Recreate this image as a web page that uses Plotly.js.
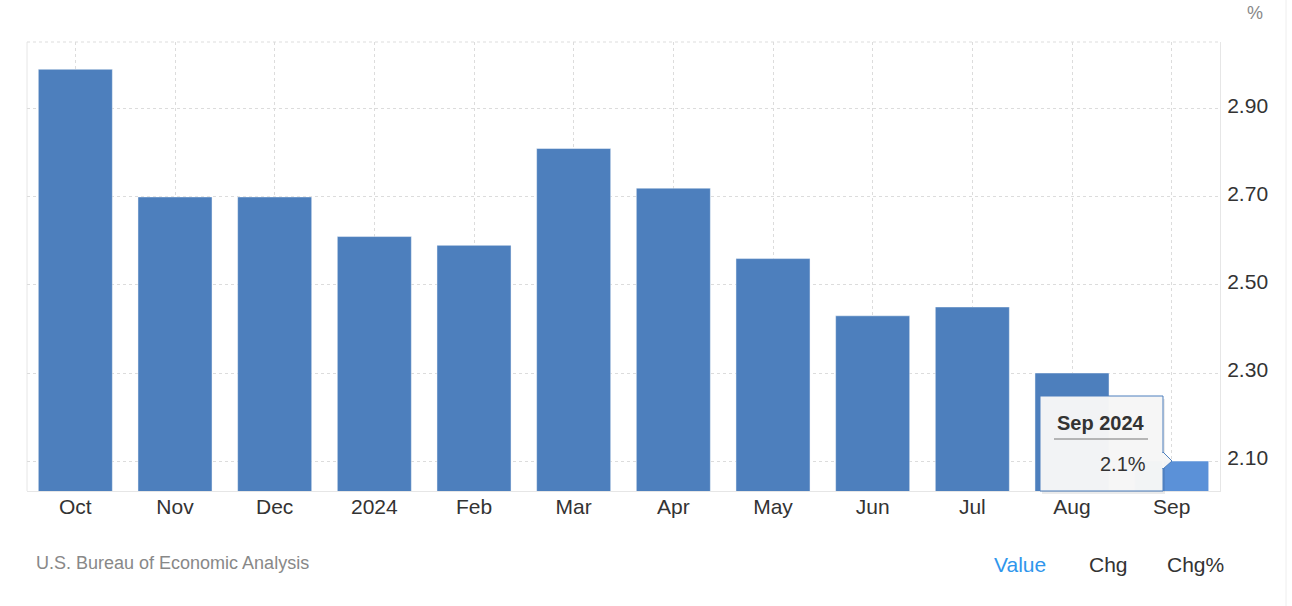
<!DOCTYPE html>
<html>
<head>
<meta charset="utf-8">
<script src="https://cdn.plot.ly/plotly-3.0.1.min.js"></script>
<style>
html,body{margin:0;padding:0;background:#fff;}
#chart{width:1292px;height:606px;}
</style>
</head>
<body>
<div id="chart"></div>
<script>
// Data (PCE price index, YoY %)
const categories = ["Oct", "Nov", "Dec", "2024", "Feb", "Mar", "Apr", "May", "Jun", "Jul", "Aug", "Sep"];
const values = [2.99, 2.70, 2.70, 2.61, 2.59, 2.81, 2.72, 2.56, 2.43, 2.45, 2.30, 2.10];
const yTickValues = [2.10, 2.30, 2.50, 2.70, 2.90];
const yTickLabels = ["2.10", "2.30", "2.50", "2.70", "2.90"];
const tooltipTitle = "Sep 2024";
const tooltipValue = "2.1%";
const sourceText = "U.S. Bureau of Economic Analysis";
const buttons = ["Value", "Chg", "Chg%"];
const unitLabel = "%";

const FONT = "Liberation Sans, Arial, Helvetica, sans-serif";
const BAR = "#4d7fbd";
const BAR_HI = "#5b91d8";

const W = 1292, H = 606;
const M = {l: 27, r: 72, t: 42, b: 115};
const PW = W - M.l - M.r, PH = H - M.t - M.b;
const px = x => (x - M.l) / PW;
const py = y => (H - M.b - y) / PH;

const colors = values.map((v, i) => i === values.length - 1 ? BAR_HI : BAR);

const trace = {
  type: "bar",
  x: categories,
  y: values,
  marker: {color: colors, line: {color: "rgba(255,255,255,0.45)", width: 1}},
  hoverinfo: "skip"
};

// tooltip geometry (pixels)
const tb = {x0: 1040, x1: 1163, y0: 396, y1: 491};

const shapes = [
  {type: "line", xref: "paper", yref: "paper", x0: 0, x1: 0, y0: 0, y1: 1,
   line: {color: "#e6e6e6", width: 1}, layer: "below"},
  {type: "line", xref: "paper", yref: "paper", x0: 0, x1: 1, y0: 1, y1: 1,
   line: {color: "#dddddd", width: 1, dash: "dot"}, layer: "below"},
  {type: "line", xref: "paper", yref: "paper", x0: px(1286), x1: px(1286), y0: py(606), y1: py(0),
   line: {color: "#eeeeee", width: 1}},
  {type: "rect", xref: "paper", yref: "paper", x0: px(tb.x0 + 2), x1: px(tb.x1 + 2), y0: py(tb.y1 + 3), y1: py(tb.y0 + 3),
   fillcolor: "rgba(0,0,0,0.08)", line: {width: 0}},
  {type: "rect", xref: "paper", yref: "paper", x0: px(tb.x0), x1: px(tb.x1), y0: py(tb.y1), y1: py(tb.y0),
   fillcolor: "rgba(246,246,246,0.98)", line: {color: BAR, width: 1}},
  {type: "path", xref: "paper", yref: "paper",
   path: "M " + px(tb.x1) + "," + py(452) + " L " + px(1172) + "," + py(461) + " L " + px(tb.x1) + "," + py(469) + " Z",
   fillcolor: "rgba(246,246,246,0.98)", line: {color: BAR, width: 1}},
  {type: "line", xref: "paper", yref: "paper", x0: px(tb.x1), x1: px(tb.x1), y0: py(468), y1: py(453),
   line: {color: "#f6f6f6", width: 2}},
  {type: "line", xref: "paper", yref: "paper", x0: px(1054), x1: px(1148), y0: py(439), y1: py(439),
   line: {color: "#777777", width: 1}}
];

const annotations = [
  {xref: "paper", yref: "paper", x: px(1101), y: py(423), text: "<b>" + tooltipTitle + "</b>",
   showarrow: false, xanchor: "center", yanchor: "middle", font: {family: FONT, size: 20, color: "#333"}},
  {xref: "paper", yref: "paper", x: px(1148), y: py(464), text: tooltipValue,
   showarrow: false, xanchor: "right", yanchor: "middle", font: {family: FONT, size: 20, color: "#333"}},
  {xref: "paper", yref: "paper", x: px(1255), y: py(13), text: unitLabel,
   showarrow: false, xanchor: "center", yanchor: "middle", font: {family: FONT, size: 18, color: "#888"}},
  {xref: "paper", yref: "paper", x: px(34), y: py(563), text: sourceText,
   showarrow: false, xanchor: "left", yanchor: "middle", font: {family: FONT, size: 18, color: "#888"}},
  {xref: "paper", yref: "paper", x: px(1020), y: py(564), text: buttons[0],
   showarrow: false, xanchor: "center", yanchor: "middle", font: {family: FONT, size: 21, color: "#2f96ec"}},
  {xref: "paper", yref: "paper", x: px(1108), y: py(564), text: buttons[1],
   showarrow: false, xanchor: "center", yanchor: "middle", font: {family: FONT, size: 21, color: "#333"}},
  {xref: "paper", yref: "paper", x: px(1195), y: py(564), text: buttons[2],
   showarrow: false, xanchor: "center", yanchor: "middle", font: {family: FONT, size: 21, color: "#333"}}
];

const layout = {
  width: W, height: H,
  margin: M,
  paper_bgcolor: "#fff",
  plot_bgcolor: "#fff",
  showlegend: false,
  hovermode: false,
  bargap: 0.257,
  font: {family: FONT, color: "#333"},
  xaxis: {
    type: "category",
    range: [-0.485, 11.485],
    showgrid: true,
    gridcolor: "#dcdcdc",
    griddash: "dot",
    gridwidth: 1,
    showline: true,
    linecolor: "#e6e6e6",
    linewidth: 1,
    ticks: "",
    ticklabelstandoff: -3,
    tickfont: {family: FONT, size: 21, color: "#333"},
    fixedrange: true,
    zeroline: false
  },
  yaxis: {
    side: "right",
    range: [2.032, 3.052],
    tickvals: yTickValues,
    ticktext: yTickLabels,
    showgrid: true,
    gridcolor: "#dcdcdc",
    griddash: "dot",
    gridwidth: 1,
    showline: true,
    linecolor: "#e6e6e6",
    linewidth: 1,
    ticks: "",
    ticklabelstandoff: 2,
    ticklabelshift: -3,
    tickfont: {family: FONT, size: 21, color: "#333"},
    fixedrange: true,
    zeroline: false
  },
  shapes: shapes,
  annotations: annotations
};

Plotly.newPlot("chart", [trace], layout, {displayModeBar: false, staticPlot: true});
</script>
</body>
</html>
